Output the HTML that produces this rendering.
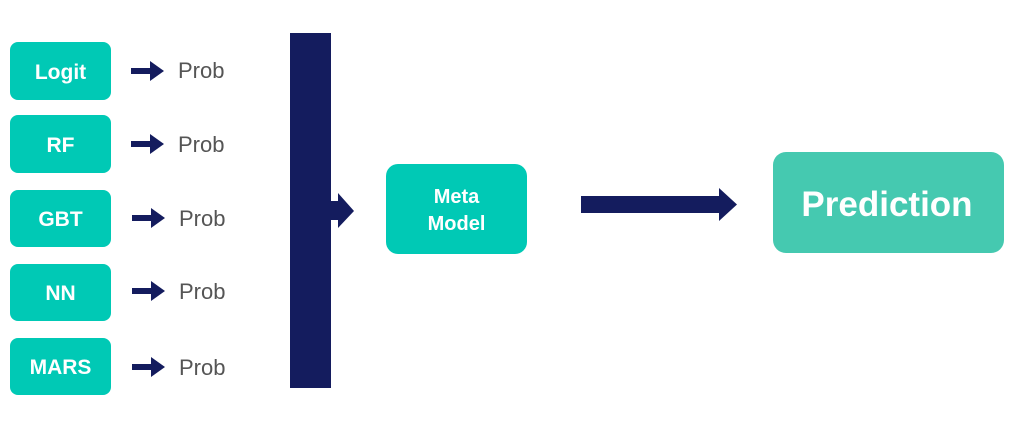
<!DOCTYPE html>
<html><head><meta charset="utf-8"><style>
html,body{margin:0;padding:0;background:#fff;width:1010px;height:421px;overflow:hidden}
svg{display:block}
text{font-family:"Liberation Sans",Arial,sans-serif}
</style></head><body>
<svg width="1010" height="421" viewBox="0 0 1010 421">
<g fill="#00c9b5">
<rect x="10" y="42" width="101" height="58" rx="8"/>
<rect x="10" y="115" width="101" height="58" rx="8"/>
<rect x="10" y="190" width="101" height="57" rx="8"/>
<rect x="10" y="264" width="101" height="57" rx="8"/>
<rect x="10" y="338" width="101" height="57" rx="8"/>
<rect x="386" y="164" width="141" height="90" rx="12"/>
</g>
<rect x="773" y="152" width="231" height="101" rx="13" fill="#45c9b0"/>
<g fill="#fff" font-weight="bold" font-size="21" text-anchor="middle">
<text x="60.5" y="79">Logit</text>
<text x="60.5" y="152">RF</text>
<text x="60.5" y="226">GBT</text>
<text x="60.5" y="300">NN</text>
<text x="60.5" y="374">MARS</text>
<text x="456.5" y="203" font-size="20">Meta</text>
<text x="456.5" y="230" font-size="20">Model</text>
<text x="887" y="216" font-size="35">Prediction</text>
</g>
<g fill="#141c5e">
<path d="M131 68h19v-7l14 10-14 10v-7h-19z"/>
<path d="M131 141h19v-7l14 10-14 10v-7h-19z"/>
<path d="M132 215h19v-7l14 10-14 10v-7h-19z"/>
<path d="M132 288h19v-7l14 10-14 10v-7h-19z"/>
<path d="M132 364h19v-7l14 10-14 10v-7h-19z"/>
<rect x="290" y="33" width="41" height="355"/>
<path d="M330 201h8v-8l16 18-16 17v-8h-8z"/>
<path d="M581 196h138v-8l18 16.5-18 16.5v-8h-138z"/>
</g>
<g fill="#555" font-size="22">
<text x="178" y="78">Prob</text>
<text x="178" y="152">Prob</text>
<text x="179" y="226">Prob</text>
<text x="179" y="299">Prob</text>
<text x="179" y="375">Prob</text>
</g>
</svg>
</body></html>
